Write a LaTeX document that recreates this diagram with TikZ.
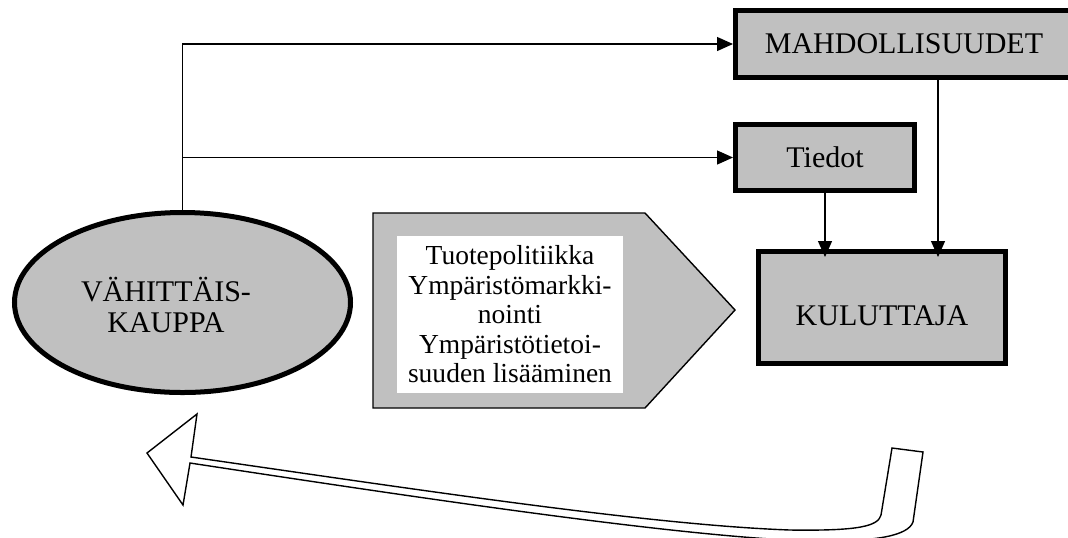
\documentclass[tikz,border=0pt]{standalone}
\usepackage{fontspec}
\setmainfont{Liberation Serif}
\usetikzlibrary{shapes.geometric,arrows.meta,calc}
\definecolor{boxgray}{HTML}{C0C0C0}
\begin{document}
\begin{tikzpicture}[x=0.5pt,y=-0.5pt,
  thickbox/.style={draw=black,line width=2.5pt,fill=boxgray,inner sep=0pt,
    font=\fontsize{15pt}{15.5pt}\selectfont},
  bigtext/.style={font=\fontsize{15pt}{15.5pt}\selectfont,align=center,inner sep=0pt},
  conn/.style={line width=0.65pt,-{Triangle[length=8pt,width=7pt]}},
  outline/.style={line width=0.7pt}]
\useasboundingbox (0,0) rectangle (1068,537);
\clip (0,0) rectangle (1068,537);

% boxes
\node[thickbox, minimum width=168.5pt, minimum height=33.5pt] (mah) at (904,44) {MAHDOLLISUUDET};
\node[thickbox, minimum width=89.5pt, minimum height=33pt] (td) at (825,157.5) {Tiedot};
\node[thickbox, minimum width=123.5pt, minimum height=56pt,
  label={[name=kult, bigtext, yshift=-4pt]center:KULUTTAJA}] (kul) at (882,307.5) {};
\node[thickbox, ellipse, minimum width=168pt, minimum height=90pt] (vk) at (182.5,302.5) {};
\node[bigtext] (vkt) at (166,304.5) {VÄHITTÄIS-\\KAUPPA};

% pentagon arrow with white text box
\draw[outline, fill=boxgray] (373,213) -- (645,213) -- (735,310) -- (645,408) -- (373,408) -- cycle;
\node[fill=white, minimum width=113pt, minimum height=78.5pt, inner sep=0pt, align=center,
  font=\fontsize{13.75pt}{14.75pt}\selectfont] (pol) at (510,314.5)
  {Tuotepolitiikka\\Ympäristömarkki-\\nointi\\Ympäristötietoi-\\suuden lisääminen};

% connectors
\draw[conn] (vk.north) |- (mah.west);
\draw[conn] (vk.north |- td.west) -- (td.west);
\coordinate (mx) at (938,0);
\draw[conn, shorten >=-4pt] (td.south) -- (td.south |- kul.north);
\draw[conn, shorten >=-4pt] (mx |- mah.south) -- (mx |- kul.north);

% hollow feedback arrow
\draw[outline, fill=white, line join=miter] (892,448) -- (923,452) -- (913,522)
  .. controls (908,535) and (880,542) .. (810,541)
  .. controls (680,537) and (420,498) .. (190,463)
  -- (183,505) -- (147,453) -- (197,414) -- (191,457)
  .. controls (420,490) and (650,525) .. (790,530)
  .. controls (860,531) and (878,526) .. (881,515) -- cycle;
\end{tikzpicture}
\end{document}
